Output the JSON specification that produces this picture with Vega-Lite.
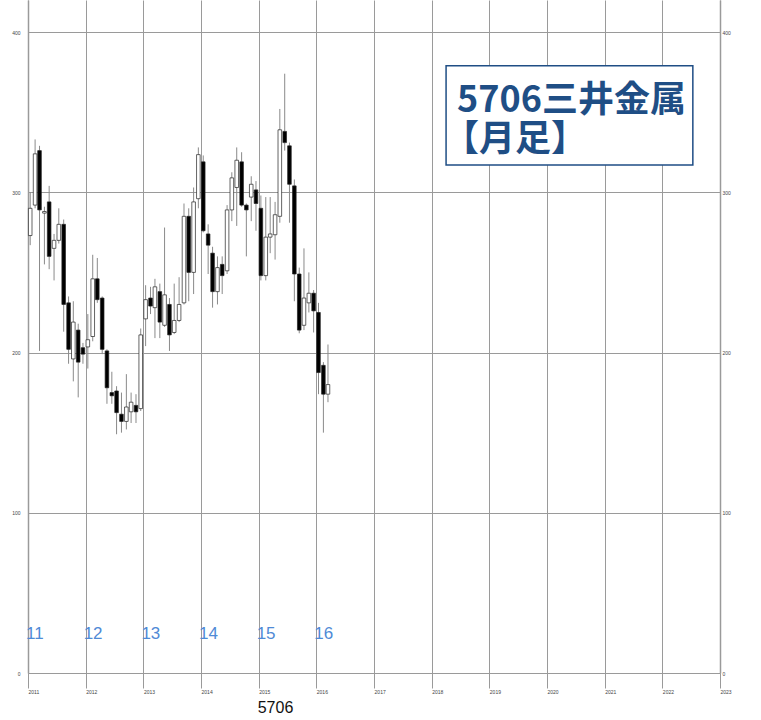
{
  "$schema": "https://vega.github.io/schema/vega-lite/v6.json",
  "width": 692,
  "height": 673,
  "autosize": {"type": "none"},
  "padding": {"left": 28, "top": 0, "right": 41, "bottom": 47},
  "background": "white",
  "config": {"view": {"stroke": null}},
  "datasets": {
    "candles": [
      {"d": "2011-01-15", "o": 273, "h": 300, "l": 267, "c": 290},
      {"d": "2011-02-15", "o": 292, "h": 333, "l": 290, "c": 324},
      {"d": "2011-03-15", "o": 326, "h": 329, "l": 201, "c": 289},
      {"d": "2011-04-15", "o": 287, "h": 291, "l": 255, "c": 288},
      {"d": "2011-05-15", "o": 294, "h": 304, "l": 252, "c": 260},
      {"d": "2011-06-15", "o": 265, "h": 274, "l": 245, "c": 270},
      {"d": "2011-07-15", "o": 270, "h": 290, "l": 268, "c": 280},
      {"d": "2011-08-15", "o": 280, "h": 283, "l": 213, "c": 230},
      {"d": "2011-09-15", "o": 231, "h": 235, "l": 193, "c": 202},
      {"d": "2011-10-15", "o": 196, "h": 232, "l": 182, "c": 219},
      {"d": "2011-11-15", "o": 214, "h": 218, "l": 172, "c": 194},
      {"d": "2011-12-15", "o": 203, "h": 206, "l": 193, "c": 199},
      {"d": "2012-01-15", "o": 203.5, "h": 224, "l": 190, "c": 208},
      {"d": "2012-02-15", "o": 210, "h": 261, "l": 207, "c": 246},
      {"d": "2012-03-15", "o": 246, "h": 259, "l": 231, "c": 233},
      {"d": "2012-04-15", "o": 234, "h": 235, "l": 199, "c": 202},
      {"d": "2012-05-15", "o": 201, "h": 202, "l": 168, "c": 178},
      {"d": "2012-06-15", "o": 175, "h": 188, "l": 168, "c": 173},
      {"d": "2012-07-15", "o": 176, "h": 179, "l": 149, "c": 162.5},
      {"d": "2012-08-15", "o": 161.5, "h": 175, "l": 150, "c": 157},
      {"d": "2012-09-15", "o": 157, "h": 186.5, "l": 152, "c": 166},
      {"d": "2012-10-15", "o": 163, "h": 175, "l": 156, "c": 169},
      {"d": "2012-11-15", "o": 167, "h": 174, "l": 156, "c": 163},
      {"d": "2012-12-15", "o": 165, "h": 215, "l": 163.5, "c": 211},
      {"d": "2013-01-15", "o": 221, "h": 242, "l": 204, "c": 233},
      {"d": "2013-02-15", "o": 234, "h": 241, "l": 224, "c": 229},
      {"d": "2013-03-15", "o": 228, "h": 246, "l": 209, "c": 241},
      {"d": "2013-04-15", "o": 238, "h": 243, "l": 209, "c": 219},
      {"d": "2013-05-15", "o": 217, "h": 278, "l": 216, "c": 236},
      {"d": "2013-06-15", "o": 230, "h": 234, "l": 201, "c": 211},
      {"d": "2013-07-15", "o": 212.5, "h": 243, "l": 211.5, "c": 220},
      {"d": "2013-08-15", "o": 220, "h": 247, "l": 219, "c": 230},
      {"d": "2013-09-15", "o": 231, "h": 293, "l": 230, "c": 285},
      {"d": "2013-10-15", "o": 285, "h": 290, "l": 232, "c": 250},
      {"d": "2013-11-15", "o": 250, "h": 303, "l": 236.5, "c": 294},
      {"d": "2013-12-15", "o": 296, "h": 328, "l": 290, "c": 323.5},
      {"d": "2014-01-15", "o": 319, "h": 323, "l": 275, "c": 276},
      {"d": "2014-02-15", "o": 274, "h": 280, "l": 249, "c": 267},
      {"d": "2014-03-15", "o": 262, "h": 266, "l": 228, "c": 238},
      {"d": "2014-04-15", "o": 238, "h": 260, "l": 230, "c": 253},
      {"d": "2014-05-15", "o": 255, "h": 260, "l": 236.5, "c": 248},
      {"d": "2014-06-15", "o": 251, "h": 292, "l": 249, "c": 289},
      {"d": "2014-07-15", "o": 289, "h": 312.5, "l": 282, "c": 309},
      {"d": "2014-08-15", "o": 303, "h": 328, "l": 279, "c": 320},
      {"d": "2014-09-15", "o": 319, "h": 325, "l": 291, "c": 292},
      {"d": "2014-10-15", "o": 292, "h": 293, "l": 260, "c": 289},
      {"d": "2014-11-15", "o": 297, "h": 310, "l": 282, "c": 305},
      {"d": "2014-12-15", "o": 301.5, "h": 307, "l": 276, "c": 293},
      {"d": "2015-01-15", "o": 290, "h": 298, "l": 245, "c": 248},
      {"d": "2015-02-15", "o": 248, "h": 297, "l": 245, "c": 272},
      {"d": "2015-03-15", "o": 272, "h": 297, "l": 262, "c": 274},
      {"d": "2015-04-15", "o": 273.5, "h": 294, "l": 258, "c": 286},
      {"d": "2015-05-15", "o": 285, "h": 352, "l": 281, "c": 339},
      {"d": "2015-06-15", "o": 338, "h": 374, "l": 326, "c": 331},
      {"d": "2015-07-15", "o": 329, "h": 331, "l": 281, "c": 305},
      {"d": "2015-08-15", "o": 304, "h": 308, "l": 232, "c": 249},
      {"d": "2015-09-15", "o": 249, "h": 253, "l": 212, "c": 214},
      {"d": "2015-10-15", "o": 217, "h": 265, "l": 214, "c": 234},
      {"d": "2015-11-15", "o": 231, "h": 250, "l": 225, "c": 237},
      {"d": "2015-12-15", "o": 237, "h": 239, "l": 212.5, "c": 226},
      {"d": "2016-01-15", "o": 225, "h": 231, "l": 174, "c": 187.5},
      {"d": "2016-02-15", "o": 192, "h": 194, "l": 150, "c": 174},
      {"d": "2016-03-15", "o": 174, "h": 205, "l": 169, "c": 180}
    ],
    "years": [
      {"yr": "11", "d": "2011-01-01"},
      {"yr": "12", "d": "2012-01-01"},
      {"yr": "13", "d": "2013-01-01"},
      {"yr": "14", "d": "2014-01-01"},
      {"yr": "15", "d": "2015-01-01"},
      {"yr": "16", "d": "2016-01-01"}
    ]
  },
  "layer": [
    {
      "data": {"name": "candles"},
      "mark": {"type": "rule", "color": "#8a8a8a", "strokeWidth": 1},
      "encoding": {
        "x": {
          "field": "d", "type": "temporal",
          "scale": {"type": "utc", "domain": [{"year": 2011, "month": 1, "date": 1, "utc": true}, {"year": 2023, "month": 1, "date": 1, "utc": true}], "nice": false, "padding": 0},
          "axis": {
            "orient": "bottom", "format": "%Y", "tickCount": {"interval": "year", "step": 1},
            "grid": true, "gridColor": "#9a9a9a", "gridWidth": 1,
            "domain": false, "ticks": true, "tickSize": 15, "tickColor": "#9a9a9a", "tickWidth": 1,
            "labelAlign": "left", "labelBaseline": "top", "labelPadding": 1, "labelFontSize": 5,
            "labelFont": "Liberation Sans", "labelColor": "#444", "labelFlush": false, "labelOverlap": false,
            "title": "5706", "titleFont": "Liberation Sans", "titleFontSize": 16, "titleFontWeight": "normal",
            "titleColor": "#111", "titleX": 247, "titleY": 39, "titleAlign": "center", "titleBaseline": "alphabetic", "titleAnchor": null
          }
        },
        "y": {
          "field": "l", "type": "quantitative",
          "scale": {"domain": [0, 420], "nice": false, "zero": true, "padding": 0},
          "axis": {
            "orient": "left", "values": [0, 100, 200, 300, 400], "grid": true, "gridColor": "#9a9a9a", "gridWidth": 1,
            "domain": true, "domainColor": "#9a9a9a", "domainWidth": 1.5, "ticks": false,
            "labelPadding": 8, "labelFontSize": 5, "labelFont": "Liberation Sans", "labelColor": "#444", "title": null
          }
        },
        "y2": {"field": "h"}
      }
    },
    {
      "data": {"name": "candles"},
      "mark": {"type": "bar", "width": 3.6, "stroke": "#222", "strokeWidth": 0.7},
      "encoding": {
        "x": {"field": "d", "type": "temporal"},
        "y": {
          "field": "o", "type": "quantitative",
          "axis": {
            "orient": "right", "values": [0, 100, 200, 300, 400], "grid": false,
            "domain": true, "domainColor": "#9a9a9a", "domainWidth": 1.5, "ticks": false,
            "labelPadding": 2, "labelFontSize": 5, "labelFont": "Liberation Sans", "labelColor": "#444", "title": null
          }
        },
        "y2": {"field": "c"},
        "fill": {"condition": {"test": "datum.c < datum.o", "value": "black"}, "value": "white"}
      }
    },
    {
      "data": {"name": "years"},
      "mark": {"type": "text", "align": "left", "baseline": "alphabetic", "fontSize": 17, "font": "Liberation Sans", "color": "#4f8ad6", "dx": -2},
      "encoding": {
        "x": {"field": "d", "type": "temporal"},
        "y": {"datum": 21.3, "axis": null},
        "text": {"field": "yr"}
      }
    },
    {
      "data": {"values": [{}]},
      "mark": {"type": "rect", "fill": "white", "stroke": "#1f4e85", "strokeWidth": 1.5},
      "encoding": {
        "x": {"datum": {"year": 2018, "month": 4, "date": 2, "utc": true}, "type": "temporal"},
        "x2": {"datum": {"year": 2022, "month": 7, "date": 13, "utc": true}},
        "y": {"datum": 379, "axis": null},
        "y2": {"datum": 317}
      }
    },
    {
      "data": {"values": [{}]},
      "mark": {"type": "text", "text": "5706三井金属", "align": "left", "baseline": "alphabetic", "font": "Noto Sans CJK JP", "fontWeight": "bold", "fontSize": 36, "color": "#1f4e85"},
      "encoding": {
        "x": {"datum": {"year": 2018, "month": 6, "date": 10, "utc": true}, "type": "temporal"},
        "y": {"datum": 350, "axis": null}
      }
    },
    {
      "data": {"values": [{}]},
      "mark": {"type": "text", "text": "【月足】", "align": "left", "baseline": "alphabetic", "font": "Noto Sans CJK JP", "fontWeight": "bold", "fontSize": 36, "color": "#1f4e85", "dx": -14},
      "encoding": {
        "x": {"datum": {"year": 2018, "month": 6, "date": 10, "utc": true}, "type": "temporal"},
        "y": {"datum": 326, "axis": null}
      }
    }
  ],
  "resolve": {"axis": {"y": "independent"}}
}
